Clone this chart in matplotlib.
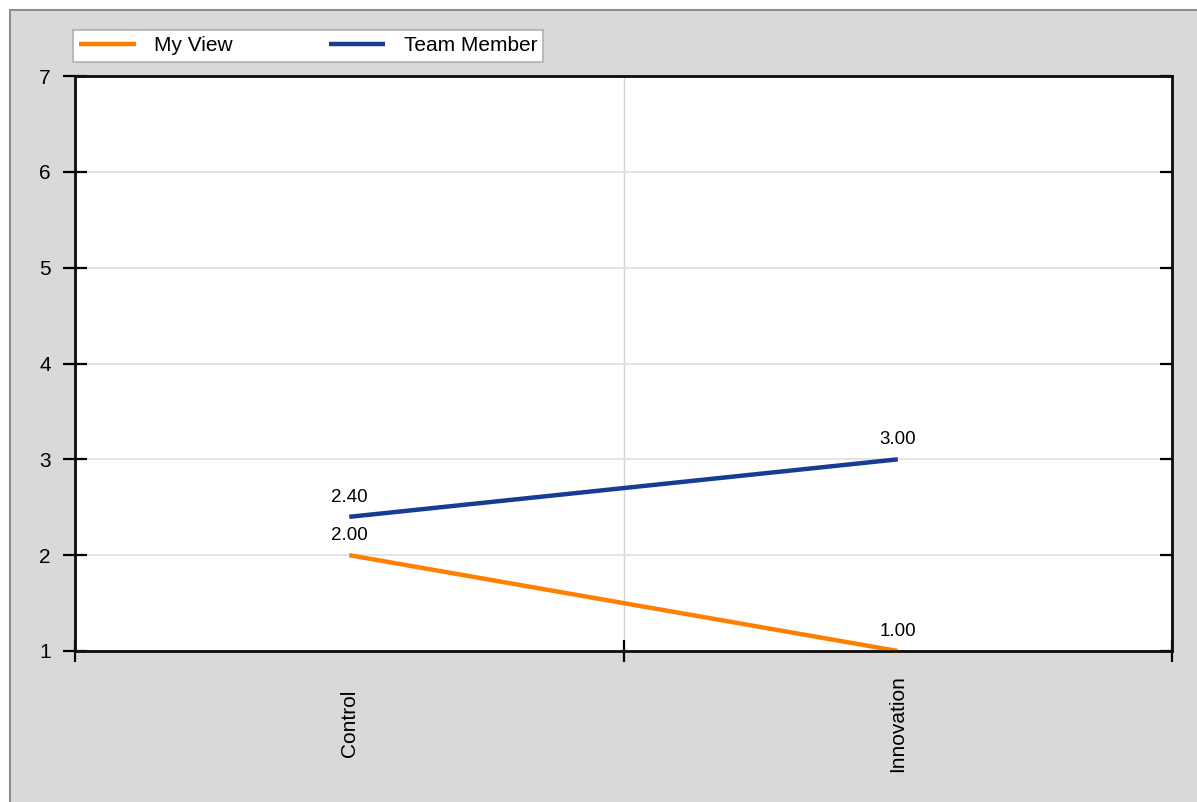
import matplotlib
matplotlib.use("Agg")
import matplotlib.pyplot as plt
from matplotlib.patches import Rectangle

categories = ["Control", "Innovation"]
my_view = [2.00, 1.00]
team_member = [2.40, 3.00]
y_ticks = [1, 2, 3, 4, 5, 6, 7]

plt.rcParams["font.family"] = ["Liberation Sans", "DejaVu Sans"]

W, H = 1197, 802
fig = plt.figure(figsize=(W / 100, H / 100), dpi=100)
fig.patch.set_facecolor("white")

# grey panel behind the chart
panel = Rectangle((10 / W, -0.01), 1.0, (H - 10) / H + 0.01,
                  transform=fig.transFigure, facecolor="#d9d9d9",
                  edgecolor="#8c8c8c", linewidth=1.5, zorder=-10)
fig.add_artist(panel)

ax = fig.add_axes([75 / W, 1 - 651 / H, (1172 - 75) / W, (651 - 76) / H])
ax.set_facecolor("white")

x = list(range(len(categories)))
ax.plot(x, my_view, color="#ff8000", linewidth=3.2, label="My View",
        solid_capstyle="butt", clip_on=False, zorder=3)
ax.plot(x, team_member, color="#173c96", linewidth=3.2, label="Team Member",
        solid_capstyle="butt", clip_on=False, zorder=3)

for xi, v in zip(x, my_view):
    ax.annotate(f"{v:.2f}", (xi, v), xytext=(0, 8), textcoords="offset points",
                ha="center", va="bottom", fontsize=13.5)
for xi, v in zip(x, team_member):
    ax.annotate(f"{v:.2f}", (xi, v), xytext=(0, 8), textcoords="offset points",
                ha="center", va="bottom", fontsize=13.5)

ax.set_xlim(-0.5, len(categories) - 0.5)
ax.set_ylim(1, 7)
ax.set_yticks(y_ticks)
ax.set_xticks(x)
ax.set_xticklabels(categories, rotation=90, va="center", fontsize=15)
ax.set_xticks([-0.5, 0.5, 1.5], minor=True)
ax.tick_params(axis="x", which="major", length=0, pad=52)
ax.tick_params(axis="x", which="minor", direction="inout", length=16, width=1.6)
ax.tick_params(axis="y", direction="inout", length=17, width=1.6, pad=9,
               labelsize=15)

# short inward ticks on the right side
ax_r = ax.twinx()
ax_r.set_ylim(ax.get_ylim())
ax_r.set_yticks(y_ticks)
ax_r.set_yticklabels([])
ax_r.tick_params(axis="y", direction="in", length=9, width=1.6)

ax.grid(axis="y", color="#e0e0e0", linewidth=1.2)
ax.grid(axis="x", which="minor", color="#d4d4d4", linewidth=1)
ax.set_axisbelow(True)
for a in (ax, ax_r):
    for s in a.spines.values():
        s.set_linewidth(1.8)
        s.set_color("#111111")

h1, l1 = ax.get_legend_handles_labels()
leg = fig.legend(h1, l1, loc="upper left", bbox_to_anchor=(73 / W, 1 - 30 / H),
                 borderaxespad=0, ncol=2, frameon=True, fancybox=False,
                 edgecolor="#b0b0b0", facecolor="white", framealpha=1,
                 handlelength=2.7, columnspacing=4.6, handletextpad=0.9,
                 borderpad=0.3, fontsize=15)
leg.get_frame().set_linewidth(1.2)

fig.savefig("out.png", dpi=100)
